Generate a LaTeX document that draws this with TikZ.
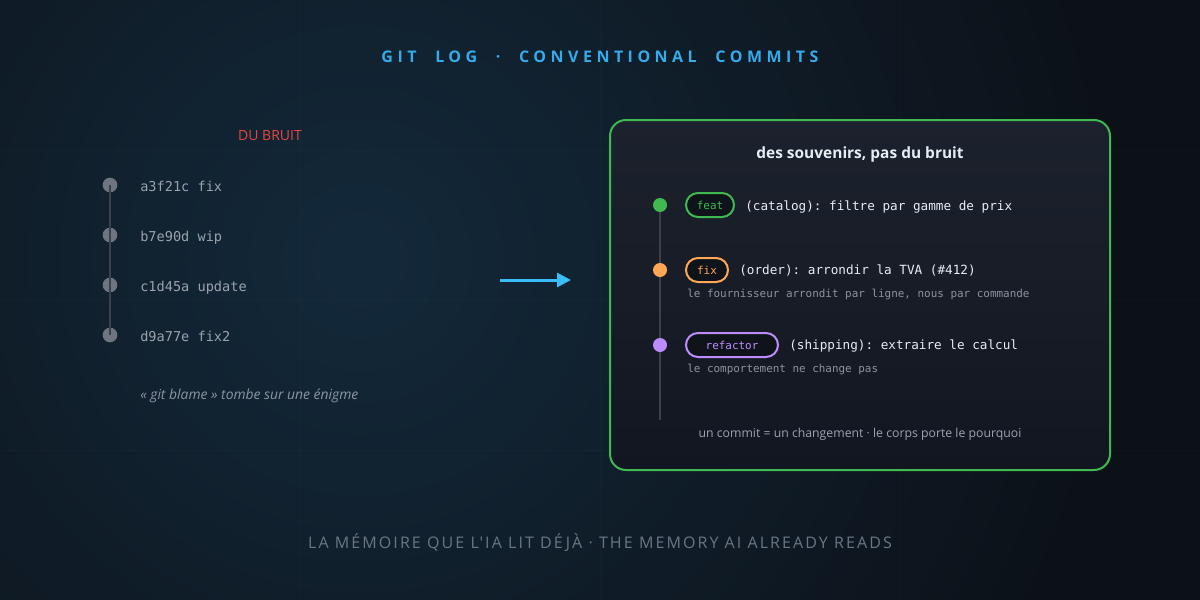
\documentclass[tikz,border=0pt]{standalone}
\usepackage{fontspec}
\usetikzlibrary{arrows.meta}
\setmainfont{Open Sans}
\setmonofont{DejaVu Sans Mono}
\newfontfamily\trackfam[LetterSpace=28]{Open Sans}
\newfontfamily\lighttrack[LetterSpace=13]{Open Sans}
\newcommand\titlef{\trackfam\bfseries\fontsize{12}{14}\selectfont}
\newcommand\botf{\lighttrack\fontsize{12}{14}\selectfont}
\newcommand\wgap{\hspace{14pt}}
\definecolor{bgc}{HTML}{0C1118}
\definecolor{glow}{HTML}{13293A}
\definecolor{titlec}{HTML}{35ABEB}
\definecolor{redc}{HTML}{E5483F}
\definecolor{ldotc}{HTML}{6E7480}
\definecolor{llinec}{HTML}{3A404C}
\definecolor{ltextc}{HTML}{9AA3AD}
\definecolor{italc}{HTML}{8C96A3}
\definecolor{arrc}{HTML}{38BDF8}
\definecolor{greenc}{HTML}{3FB950}
\definecolor{orangec}{HTML}{FFA657}
\definecolor{purplec}{HTML}{BC8CFF}
\definecolor{cardtop}{HTML}{1C222D}
\definecolor{cardbot}{HTML}{121620}
\definecolor{headc}{HTML}{E6EDF3}
\definecolor{subc}{HTML}{8B949E}
\definecolor{footc}{HTML}{9AA4B2}
\definecolor{botc}{HTML}{6B7685}
\definecolor{badgefill}{HTML}{0F141B}
\tikzset{
  txt/.style={inner sep=0pt, anchor=base},
  title/.style={txt, font=\titlef, text=titlec},
  redlabel/.style={txt, font=\fontsize{10.5}{12}\selectfont, text=redc},
  ldot/.style={circle, fill=ldotc, minimum size=11pt, inner sep=0pt},
  lline/.style={draw=llinec, line width=1.5pt},
  ltext/.style={txt, anchor=base west, font=\ttfamily\fontsize{10.2}{12}\selectfont, text=ltextc},
  ital/.style={txt, anchor=base west, font=\itshape\fontsize{10.4}{12}\selectfont, text=italc},
  arr/.style={draw=arrc, line width=2.25pt, -{Triangle[length=10.5pt,width=10.5pt]}},
  card/.style={draw=greenc, line width=1.5pt, rounded corners=12pt, top color=cardtop, bottom color=cardbot, minimum width=375pt, minimum height=262.5pt, inner sep=0pt},
  head/.style={txt, font=\bfseries\fontsize{11.6}{14}\selectfont, text=headc},
  rline/.style={draw=llinec, line width=1.5pt},
  rdot/.style={circle, fill=#1, minimum size=10.5pt, inner sep=0pt},
  badge/.style={draw=#1, text=#1, fill=badgefill, line width=1.5pt, rounded corners=9pt, minimum height=18pt, inner sep=0pt, anchor=west, font=\ttfamily\fontsize{8.2}{10}\selectfont},
  commit/.style={txt, anchor=base west, font=\ttfamily\fontsize{9.5}{12}\selectfont, text=headc},
  sub/.style={txt, anchor=base west, font=\ttfamily\fontsize{8.2}{10}\selectfont, text=subc},
  foot/.style={txt, font=\fontsize{9.2}{11}\selectfont, text=footc},
  bottom/.style={txt, font=\botf, text=botc},
  gridl/.style={draw=white, draw opacity=0.016, line width=0.75pt}
}
\begin{document}
\begin{tikzpicture}[x=0.75pt,y=-0.75pt]
\useasboundingbox (0,0) rectangle (1200,600);
\fill[bgc] (0,0) rectangle (1200,600);
\begin{scope}
  \clip (0,0) rectangle (1200,600);
  \shade[inner color=glow, outer color=bgc] (360,260) circle (760);
\end{scope}
\foreach \gx in {300,600,900} {\draw[gridl] (\gx,0) -- (\gx,600);}
\foreach \gy in {150,300,450} {\draw[gridl] (0,\gy) -- (1200,\gy);}

% title
\node[title] (title) at (600,62) {GIT\wgap LOG\wgap ·\wgap CONVENTIONAL\wgap COMMITS};

% left column
\node[redlabel] (noise) at (270,140) {DU BRUIT};
\node[ldot] (l1) at (110,185) {};
\node[ldot] (l2) at (110,235) {};
\node[ldot] (l3) at (110,285) {};
\node[ldot] (l4) at (110,335) {};
\draw[lline] (l1.center) -- (l4.center);
\node[ltext] (t1) at (140,191) {a3f21c fix};
\node[ltext] (t2) at (140,241) {b7e90d wip};
\node[ltext] (t3) at (140,291) {c1d45a update};
\node[ltext] (t4) at (140,341) {d9a77e fix2};
\node[ital] (blame) at (140,399) {« git blame » tombe sur une énigme};

% arrow
\coordinate (a0) at (500,280);
\coordinate (a1) at (571,280);
\draw[arr] (a0) -- (a1);

% card
\node[card] (card) at (860,295) {};
\node[head] (heading) at (860,158) {des souvenirs, pas du bruit};
\coordinate (rtop) at (660,205);
\coordinate (rbot) at (660,420);
\draw[rline] (rtop) -- (rbot);
\node[rdot=greenc] (d1) at (660,205) {};
\node[rdot=orangec] (d2) at (660,270) {};
\node[rdot=purplec] (d3) at (660,345) {};

\node[badge=greenc, minimum width=36pt] (b1) at (685,205) {feat};
\node[badge=orangec, minimum width=31.5pt] (b2) at (685,270) {fix};
\node[badge=purplec, minimum width=69pt] (b3) at (685,345) {refactor};

\node[commit] (c1) at (745,210) {(catalog): filtre par gamme de prix};
\node[commit] (c2) at (739,274) {(order): arrondir la TVA (\#412)};
\node[commit] (c3) at (789,349) {(shipping): extraire le calcul};
\node[sub] (s2) at (687,297) {le fournisseur arrondit par ligne, nous par commande};
\node[sub] (s3) at (687,372) {le comportement ne change pas};

\node[foot] (footer) at (860,437) {un commit = un changement · le corps porte le pourquoi};

% bottom
\node[bottom] (tagline) at (600,548) {LA MÉMOIRE QUE L'IA LIT DÉJÀ · THE MEMORY AI ALREADY READS};
\end{tikzpicture}
\end{document}
